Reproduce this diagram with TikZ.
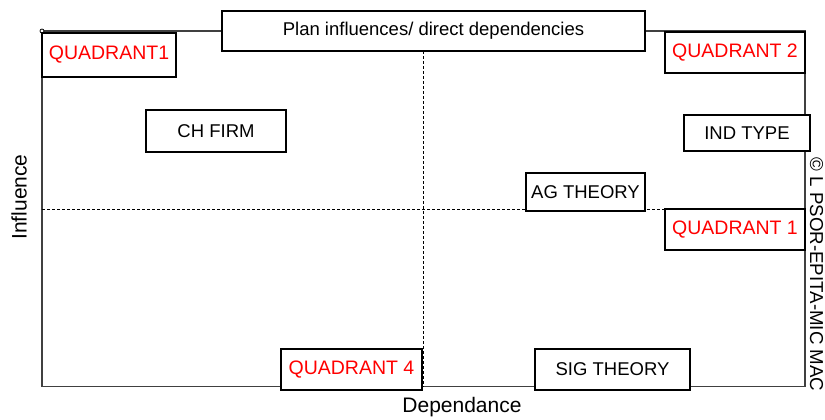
\documentclass[tikz,border=0pt]{standalone}
\usepackage{fontspec}
\setmainfont{Liberation Sans}
\begin{document}
\begin{tikzpicture}[x=1pt,y=-1pt,
  box/.style={draw=black,line width=1.8pt,fill=white,rectangle,inner sep=0pt,font=\fontsize{18.5}{20}\selectfont},
  redbox/.style={box,text=red,font=\fontsize{19.5}{21}\selectfont},
  frameline/.style={draw=black!75,line width=1.3pt},
  dashline/.style={draw=black,line width=0.9pt,dash pattern=on 3pt off 2pt},
  lbl/.style={font=\fontsize{21}{23}\selectfont,inner sep=0pt}]
\useasboundingbox (0,0) rectangle (825,420);
\coordinate (tl) at (42,31);
\coordinate (tr) at (805,31);
\coordinate (bl) at (42,386.5);
\coordinate (br) at (805,386.5);
\coordinate (ml) at (42,209);
\coordinate (mr) at (805,209);
\coordinate (mt) at (423,51);
\coordinate (mb) at (423,386.5);
\draw[frameline] (tl) -- (tr) -- (br) -- (bl) -- cycle;
\draw[dashline] (ml) -- (mr);
\draw[dashline] (mt) -- (mb);
\draw[black,line width=0.8pt,fill=white] (tl) circle (2pt);
\node[box,minimum width=423pt,minimum height=40pt] (plan) at (433.5,31) {Plan influences/ direct dependencies};
\node[redbox,minimum width=134pt,minimum height=44pt] (q1a) at (109,55) {QUADRANT1};
\node[redbox,minimum width=140pt,minimum height=41pt] (q2) at (735,52.5) {QUADRANT 2};
\node[box,minimum width=140pt,minimum height=42pt] (chfirm) at (216,131) {CH FIRM};
\node[box,minimum width=126pt,minimum height=36pt] (indtype) at (747,133) {IND TYPE};
\node[box,minimum width=119pt,minimum height=38pt] (ag) at (585.5,192) {AG THEORY};
\node[redbox,minimum width=140pt,minimum height=41pt] (q1b) at (735,229.5) {QUADRANT 1};
\node[redbox,minimum width=141pt,minimum height=41pt] (q4) at (351.5,369.5) {QUADRANT 4};
\node[box,minimum width=155pt,minimum height=41pt] (sig) at (612.5,369.5) {SIG THEORY};
\node[lbl] (dep) at (462,407) {Dependance};
\node[lbl,rotate=90] (infl) at (19,197) {Influence};
\node[font=\fontsize{18.7}{20}\selectfont,inner sep=0pt,rotate=-90] (copy) at (816.5,274.5) {© L PSOR-EPITA-MIC MAC};
\end{tikzpicture}
\end{document}
